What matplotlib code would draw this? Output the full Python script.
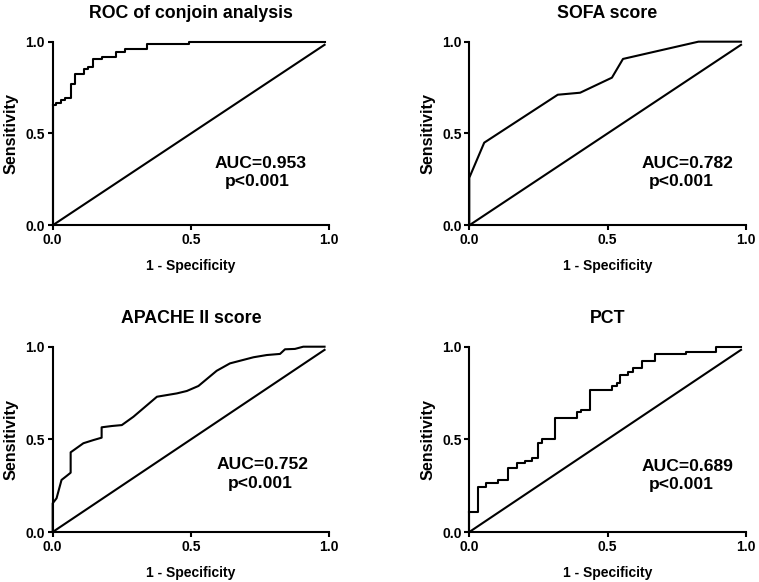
import numpy as np
import matplotlib
matplotlib.use("Agg")
import matplotlib.pyplot as plt

plt.rcParams['font.family'] = ['Liberation Sans', 'DejaVu Sans']
plt.rcParams['font.weight'] = 'bold'

# ROC of conjoin analysis (step curve)
conj_fpr = [0, 0.013, 0.029, 0.046, 0.065, 0.079, 0.113, 0.128, 0.146, 0.178,
            0.230, 0.263, 0.342, 0.492, 0.983]
conj_tpr = [0.655, 0.668, 0.681, 0.695, 0.768, 0.822, 0.850, 0.864, 0.904, 0.918,
            0.946, 0.959, 0.989, 1.0, 1.0]

# SOFA score (line curve)
sofa_fpr = [0, 0, 0.054, 0.320, 0.401, 0.516, 0.556, 0.829, 0.983]
sofa_tpr = [0, 0.259, 0.450, 0.711, 0.722, 0.804, 0.906, 1.0, 1.0]

# APACHE II score (line curve)
apache_fpr = [0, 0, 0.014, 0.032, 0.050, 0.065, 0.065, 0.080, 0.111, 0.147, 0.177,
              0.177, 0.214, 0.250, 0.292, 0.377, 0.449, 0.485, 0.527, 0.593, 0.641,
              0.726, 0.774, 0.822, 0.840, 0.876, 0.906, 0.983]
apache_tpr = [0, 0.155, 0.182, 0.281, 0.302, 0.320, 0.430, 0.446, 0.479, 0.496, 0.509,
              0.565, 0.572, 0.577, 0.622, 0.730, 0.748, 0.761, 0.788, 0.870, 0.910,
              0.943, 0.955, 0.961, 0.986, 0.988, 1.0, 1.0]

# PCT (step curve)
pct_fpr = [0, 0.030, 0.059, 0.105, 0.139, 0.171, 0.202, 0.226, 0.247, 0.264, 0.310,
           0.388, 0.404, 0.437, 0.515, 0.533, 0.545, 0.575, 0.593, 0.624, 0.672,
           0.783, 0.891, 0.983]
pct_tpr = [0.106, 0.245, 0.266, 0.281, 0.347, 0.371, 0.385, 0.398, 0.479, 0.504, 0.617,
           0.649, 0.658, 0.766, 0.788, 0.802, 0.847, 0.865, 0.883, 0.925, 0.961,
           0.973, 1.0, 1.0]

ref_line = [0, 0.983]

titles = ["ROC of conjoin analysis", "SOFA score", "APACHE II score", "PCT"]
auc_text = ["AUC=0.953", "AUC=0.782", "AUC=0.752", "AUC=0.689"]
p_text = ["p<0.001", "p<0.001", "p<0.001", "p<0.001"]

fig = plt.figure(figsize=(7.59, 5.82), dpi=100)
rects = [[0.0694, 0.6129, 0.3644, 0.3155],
         [0.6183, 0.6129, 0.3642, 0.3155],
         [0.0694, 0.0859, 0.3644, 0.3184],
         [0.6183, 0.0859, 0.3642, 0.3184]]
auc_pos = [(0.753, 0.338, 0.739, 0.237),
           (0.791, 0.338, 0.765, 0.237),
           (0.759, 0.362, 0.750, 0.263),
           (0.791, 0.352, 0.765, 0.254)]

curves = [(conj_fpr, conj_tpr, 'step'), (sofa_fpr, sofa_tpr, 'line'),
          (apache_fpr, apache_tpr, 'line'), (pct_fpr, pct_tpr, 'step')]

for i in range(4):
    ax = fig.add_axes(rects[i])
    fpr, tpr, kind = curves[i]
    if kind == 'step':
        ax.step(fpr, tpr, where='post', color='black', lw=1.5, clip_on=False)
        ax.plot([0, 0], [0, tpr[0]], color='black', lw=1.5, clip_on=False)
    else:
        ax.plot(fpr, tpr, color='black', lw=1.5, clip_on=False)
    ax.plot(ref_line, ref_line, color='black', lw=1.5, clip_on=False)
    ax.set_xlim(0, 1)
    ax.set_ylim(0, 1)
    ax.set_xticks([0, 0.5, 1.0])
    ax.set_yticks([0, 0.5, 1.0])
    ax.set_xticklabels(["0.0", "0.5", "1.0"])
    ax.set_yticklabels(["0.0", "0.5", "1.0"])
    for s in ['top', 'right']:
        ax.spines[s].set_visible(False)
    for s in ['left', 'bottom']:
        ax.spines[s].set_linewidth(1.5)
    ax.tick_params(direction='out', length=3.5, width=1.5, labelsize=10, pad=2)
    for lab in ax.get_xticklabels() + ax.get_yticklabels():
        lab.set_fontweight('bold')
    ax.set_title(titles[i], fontsize=12.8, fontweight='bold', pad=17)
    ax.set_xlabel("1 - Specificity", fontsize=10, fontweight='bold', labelpad=9)
    ax.set_ylabel("Sensitivity", fontsize=11.6, fontweight='bold', labelpad=5)
    ax1, ay1, px1, py1 = auc_pos[i]
    ax.text(ax1, ay1, auc_text[i], transform=ax.transAxes, ha='center', va='center',
            fontsize=12.6, fontweight='bold')
    ax.text(px1, py1, p_text[i], transform=ax.transAxes, ha='center', va='center',
            fontsize=12.6, fontweight='bold')

fig.savefig("out.png", dpi=100)
